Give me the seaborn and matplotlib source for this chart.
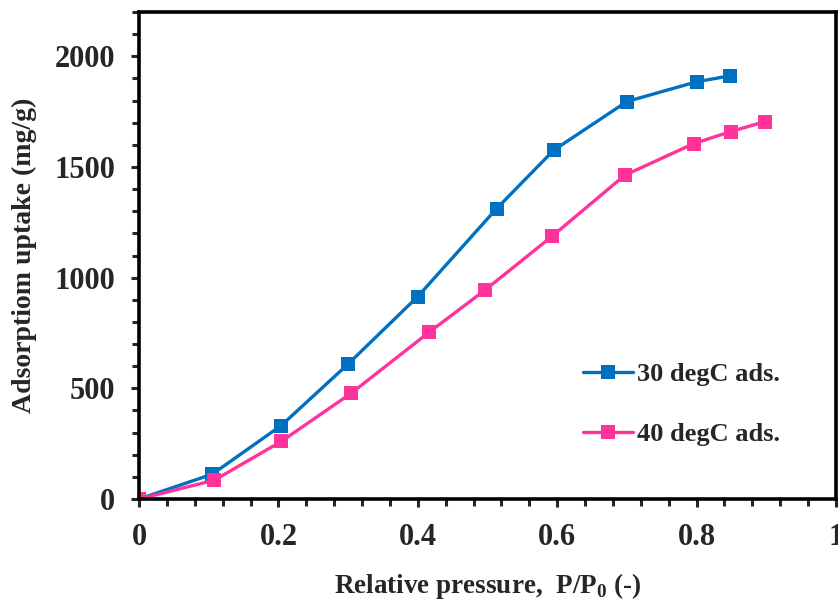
import numpy as np
import pandas as pd
import seaborn as sns
import matplotlib.pyplot as plt
from matplotlib.ticker import MultipleLocator

# data
p_30 = [0.0, 0.105, 0.204, 0.30, 0.40, 0.513, 0.595, 0.70, 0.80, 0.848]
q_30 = [0, 112, 332, 610, 915, 1312, 1576, 1796, 1885, 1912]
p_40 = [0.0, 0.108, 0.204, 0.304, 0.416, 0.496, 0.593, 0.697, 0.796, 0.849, 0.898]
q_40 = [0, 85, 260, 477, 753, 943, 1188, 1463, 1606, 1660, 1705]
labels = ["30 degC ads.", "40 degC ads."]
colors = ["#0070C0", "#FF3399"]

sns.set_style("ticks")
plt.rcParams['font.family'] = ['Liberation Serif', 'DejaVu Serif']
plt.rcParams['font.weight'] = 'bold'
plt.rcParams['mathtext.fontset'] = 'custom'
plt.rcParams['mathtext.rm'] = 'Liberation Serif:bold'
plt.rcParams['mathtext.bf'] = 'Liberation Serif:bold'

df30 = pd.DataFrame({"p": p_30, "q": q_30})
df40 = pd.DataFrame({"p": p_40, "q": q_40})

fig = plt.figure(figsize=(8.38, 6.04), dpi=100)
ax = fig.add_axes([0.1659, 0.1738, 0.8317, 0.8062])

for d, lab, c in zip([df30, df40], labels, colors):
    sns.lineplot(data=d, x="p", y="q", ax=ax, color=c, marker="s", markersize=10,
                 markeredgewidth=0, linewidth=2.4, label=lab)

ax.set_xlim(0, 1)
ax.set_ylim(0, 2200)
ax.xaxis.set_minor_locator(MultipleLocator(0.04))
ax.yaxis.set_major_locator(MultipleLocator(500))
ax.yaxis.set_minor_locator(MultipleLocator(100))
ax.set_xticks([0, 0.2, 0.4, 0.6, 0.8, 1.0])
ax.set_xticklabels(["0", "0.2", "0.4", "0.6", "0.8", "1"])

ax.tick_params(which='both', direction='out', width=2.2, labelsize=22, top=False, right=False)
ax.tick_params(which='major', length=6, pad=11)
ax.tick_params(which='minor', length=5)
for s in ax.spines.values():
    s.set_linewidth(2.6)
    s.set_color('black')
    s.set_visible(True)

ax.set_xlabel(r"Relative pressure,  P/P$_{\mathbf{0}}$ (-)", fontsize=19.5, fontweight='bold', labelpad=14)
ax.set_ylabel("Adsorptiom uptake (mg/g)", fontsize=20, fontweight='bold')
ax.yaxis.set_label_coords(-0.147, 0.5)

leg = ax.legend(loc='center left', bbox_to_anchor=(0.637, 0.195), frameon=False,
                fontsize=19, handlelength=1.9, handletextpad=0.15, labelspacing=1.38,
                borderpad=0, borderaxespad=0)
for t in leg.get_texts():
    t.set_fontweight('bold')

fig.savefig("out.png", dpi=100)
